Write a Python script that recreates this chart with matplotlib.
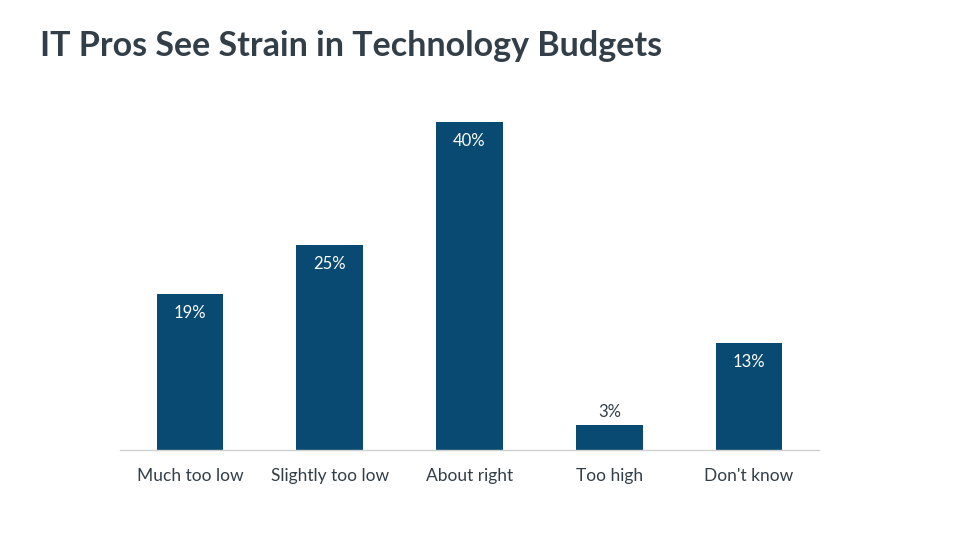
import matplotlib
matplotlib.use("Agg")
import matplotlib.pyplot as plt

categories = ["Much too low", "Slightly too low", "About right", "Too high", "Don't know"]
values = [19, 25, 40, 3, 13]
labels = ["19%", "25%", "40%", "3%", "13%"]

bar_color = "#084a72"
text_color = "#333f48"

plt.rcParams['font.family'] = ['Lato', 'DejaVu Sans']

fig = plt.figure(figsize=(9.6, 5.4), dpi=100)
ax = fig.add_axes([120/960, 90/540, 699/960, 328/540])
x = list(range(len(categories)))
bars = ax.bar(x, values, width=0.475, color=bar_color, zorder=2)
ax.set_xlim(-0.5, len(categories) - 0.5)
ax.set_ylim(0, 40)

for xi, v, lab in zip(x, values, labels):
    if v >= 10:
        ax.text(xi, v - 1.3, lab, ha='center', va='top', color='white', fontsize=12)
    else:
        ax.text(xi, v + 0.6, lab, ha='center', va='bottom', color=text_color, fontsize=12)

ax.set_xticks(x)
ax.set_xticklabels(categories, fontsize=12.5, color=text_color)
ax.tick_params(axis='x', length=0, pad=13)
ax.set_yticks([])
for s in ['top', 'right', 'left']:
    ax.spines[s].set_visible(False)
ax.spines['bottom'].set_color('#d0d0d0')
ax.spines['bottom'].set_linewidth(1)
ax.patch.set_alpha(0)

fig.text(40/960, 1 - 46/540, "IT Pros See Strain in Technology Budgets", fontsize=24.5,
         fontweight='bold', color=text_color, ha='left', va='center')

fig.savefig("out.png", dpi=100)
